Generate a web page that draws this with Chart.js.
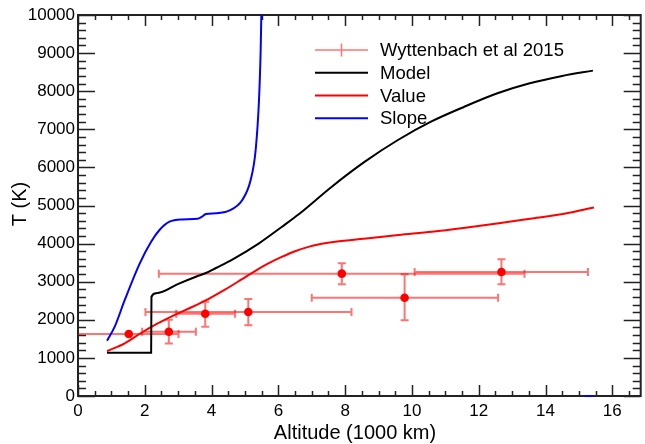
<!DOCTYPE html>
<html>
<head>
<meta charset="utf-8">
<script src="https://cdn.jsdelivr.net/npm/chart.js@4/dist/chart.umd.min.js"></script>
<style>
html,body{margin:0;padding:0;background:#fff;}
canvas{display:block;}
</style>
</head>
<body>
<canvas id="c" width="645" height="444"></canvas>
<script>
// ---- data ----
const xTicks = [0, 2, 4, 6, 8, 10, 12, 14, 16];
const yTicks = [0, 1000, 2000, 3000, 4000, 5000, 6000, 7000, 8000, 9000, 10000];

const obsLabel = "Wyttenbach et al 2015";
const obsX   = [1.52, 2.72, 3.81, 5.10, 7.90, 9.78, 12.68];
const obsY   = [1627, 1688, 2160, 2205, 3211, 2580, 3255];
const obsXLo = [-0.5, 1.92, 2.94, 2.02, 2.42, 7.00, 10.08];
const obsXHi = [3.01, 3.53, 4.70, 8.19, 13.37, 12.58, 15.27];
const obsYLo = [1627, 1380, 1820, 1855, 2932, 1987, 2932];
const obsYHi = [1627, 2000, 2475, 2545, 3483, 3194, 3588];

const modelX = [0.87, 2.19, 2.20, 2.34, 3.04, 3.53, 3.83, 4.13, 4.62, 5.42, 6.11, 6.61, 7.60, 8.59, 9.58, 10.57, 11.57, 12.56, 13.50, 14.50, 15.42];
const modelY = [1137, 1137, 2606, 2695, 2958, 3131, 3228, 3360, 3580, 4007, 4444, 4770, 5494, 6150, 6719, 7200, 7593, 7945, 8200, 8400, 8540];

const valueX = [0.87, 1.40, 1.90, 2.40, 2.90, 3.40, 3.90, 4.40, 4.90, 5.30, 5.70, 6.10, 6.50, 6.90, 7.30, 7.70, 8.70, 9.60, 10.60, 11.60, 12.60, 13.60, 14.60, 15.45];
const valueY = [1181, 1383, 1660, 1910, 2130, 2330, 2545, 2790, 3060, 3280, 3480, 3650, 3800, 3915, 3995, 4050, 4140, 4226, 4313, 4418, 4532, 4660, 4790, 4950];

const slopeX = [0.87, 1.10, 1.40, 1.85, 2.19, 2.44, 2.74, 3.13, 3.58, 3.70, 3.83, 4.13, 4.52, 4.92, 5.17, 5.32, 5.42, 5.47, 5.49, 10.0, 15.16, 15.44];
const slopeY = [1452, 1820, 2520, 3483, 4050, 4357, 4575, 4635, 4652, 4700, 4777, 4795, 4864, 5144, 5669, 6457, 7769, 9081, 10000, null, 0, 0];

const pts = (xs, ys) => xs.map((x, i) => ({x: x, y: ys[i]}));

const FONT = "'Liberation Sans', Arial, Helvetica, sans-serif";
const ERR = 'rgba(255,0,0,0.55)';

const framePlugin = {
  id: 'frame',
  beforeDatasetsDraw(chart) {
    const {ctx, chartArea: a, scales: {x, y}} = chart;
    ctx.save();
    // inward ticks
    ctx.strokeStyle = '#222';
    ctx.lineWidth = 1.5;
    ctx.beginPath();
    for (let v = 0; v <= x.max + 1e-9; v += 0.5) {
      const p = Math.round(x.getPixelForValue(v)) + 0.5;
      const len = (Math.abs(v % 2) < 1e-9) ? 11 : 5;
      ctx.moveTo(p, a.bottom); ctx.lineTo(p, a.bottom - len);
      ctx.moveTo(p, a.top); ctx.lineTo(p, a.top + len);
    }
    for (let v = 0; v <= 10000; v += 200) {
      const p = Math.round(y.getPixelForValue(v)) + 0.5;
      const len = (v % 1000 === 0) ? 17 : 8;
      ctx.moveTo(a.left, p); ctx.lineTo(a.left + len, p);
      ctx.moveTo(a.right, p); ctx.lineTo(a.right - len, p);
    }
    ctx.stroke();
    // frame
    ctx.lineWidth = 2;
    ctx.strokeRect(a.left, a.top, a.right - a.left, a.bottom - a.top);

    // error bars
    ctx.beginPath();
    ctx.rect(a.left, a.top, a.right - a.left, a.bottom - a.top);
    ctx.clip();
    ctx.strokeStyle = ERR;
    ctx.lineWidth = 2;
    for (let i = 0; i < obsX.length; i++) {
      const px = x.getPixelForValue(obsX[i]), py = y.getPixelForValue(obsY[i]);
      const xl = x.getPixelForValue(obsXLo[i]), xh = x.getPixelForValue(obsXHi[i]);
      const yl = y.getPixelForValue(obsYLo[i]), yh = y.getPixelForValue(obsYHi[i]);
      ctx.beginPath();
      ctx.moveTo(xl, py); ctx.lineTo(xh, py);
      ctx.moveTo(xl, py - 4); ctx.lineTo(xl, py + 4);
      ctx.moveTo(xh, py - 4); ctx.lineTo(xh, py + 4);
      if (Math.abs(yl - yh) > 1) {
        ctx.moveTo(px, yl); ctx.lineTo(px, yh);
        ctx.moveTo(px - 4, yl); ctx.lineTo(px + 4, yl);
        ctx.moveTo(px - 4, yh); ctx.lineTo(px + 4, yh);
      }
      ctx.stroke();
    }
    ctx.restore();
  },
  afterDraw(chart) {
    const {ctx} = chart;
    ctx.save();
    // axis titles
    ctx.fillStyle = '#000';
    ctx.font = '20px ' + FONT;
    ctx.textAlign = 'center';
    ctx.textBaseline = 'middle';
    ctx.fillText('Altitude (1000 km)', 355, 433);
    ctx.translate(20, 204);
    ctx.rotate(-Math.PI / 2);
    ctx.fillText('T (K)', 0, 0);
    ctx.restore();

    // legend
    ctx.save();
    const rows = [50, 72.7, 95.5, 118.3];
    const ds = chart.data.datasets;
    ctx.font = '18.5px ' + FONT;
    ctx.textAlign = 'left';
    ctx.textBaseline = 'middle';
    ds.forEach((d, i) => {
      const ry = rows[i];
      ctx.beginPath();
      if (i === 0) {
        ctx.strokeStyle = ERR;
        ctx.lineWidth = 1.5;
        ctx.moveTo(315, ry); ctx.lineTo(368, ry);
        ctx.moveTo(341.5, ry - 6.5); ctx.lineTo(341.5, ry + 6.5);
      } else {
        ctx.strokeStyle = d.borderColor;
        ctx.lineWidth = 2;
        ctx.moveTo(315, ry); ctx.lineTo(368, ry);
      }
      ctx.stroke();
      ctx.fillStyle = '#000';
      ctx.fillText(d.label, 380, ry + 1);
    });
    ctx.restore();
  }
};

new Chart(document.getElementById('c'), {
  data: {
    datasets: [
      {type: 'scatter', label: obsLabel, data: pts(obsX, obsY),
       pointRadius: 4.3, pointBackgroundColor: '#ff0000', pointBorderColor: '#ff0000', pointBorderWidth: 0},
      {type: 'line', label: 'Model', data: pts(modelX, modelY), borderColor: '#000000', borderWidth: 2,
       pointRadius: 0, cubicInterpolationMode: 'monotone', fill: false},
      {type: 'line', label: 'Value', data: pts(valueX, valueY), borderColor: '#ff0000', borderWidth: 2,
       pointRadius: 0, cubicInterpolationMode: 'monotone', fill: false},
      {type: 'line', label: 'Slope', data: pts(slopeX, slopeY), borderColor: '#0000ff', borderWidth: 2,
       pointRadius: 0, cubicInterpolationMode: 'monotone', fill: false, spanGaps: false,
       clip: {left: 0, top: 0, right: 0, bottom: 2}}
    ]
  },
  options: {
    responsive: false,
    animation: false,
    devicePixelRatio: 1,
    layout: {padding: {top: 15, right: 1, left: 0, bottom: 0}},
    plugins: {legend: {display: false}, tooltip: {enabled: false}},
    scales: {
      x: {
        type: 'linear', position: 'bottom', min: 0, max: 16.85,
        grid: {display: false, drawTicks: false},
        border: {display: false},
        afterBuildTicks: s => { s.ticks = xTicks.map(v => ({value: v})); },
        afterFit: s => { s.height = 48; },
        ticks: {font: {family: FONT, size: 17}, color: '#000', padding: 5, maxRotation: 0, autoSkip: false,
                callback: v => String(v)}
      },
      y: {
        type: 'linear', position: 'left', min: 0, max: 10000,
        grid: {display: false, drawTicks: false},
        border: {display: false},
        afterBuildTicks: s => { s.ticks = yTicks.map(v => ({value: v})); },
        afterFit: s => { s.width = 78; },
        ticks: {font: {family: FONT, size: 17}, color: '#000', padding: 3, autoSkip: false,
                callback: v => String(v)}
      }
    }
  },
  plugins: [framePlugin]
});
</script>
</body>
</html>
